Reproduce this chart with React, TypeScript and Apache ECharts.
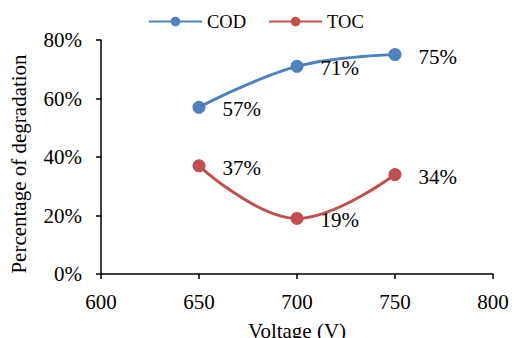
import React, { useEffect, useRef } from "react";
import * as echarts from "echarts";

const voltages = [650, 700, 750];
const codValues = [57, 71, 75];
const tocValues = [37, 19, 34];
const xTicks = [600, 650, 700, 750, 800];
const yTicks = [0, 20, 40, 60, 80];

const FONT = "'Liberation Serif', 'Times New Roman', serif";

export default function App() {
  const ref = useRef<HTMLDivElement>(null);
  useEffect(() => {
    if (!ref.current) return;
    const chart = echarts.init(ref.current, undefined, { renderer: "svg" });
    const mk = (vals: number[]) => voltages.map((v, i) => [v, vals[i]]);
    const label = {
      show: true,
      position: "right",
      distance: 17,
      offset: [0, 2],
      color: "#000",
      fontFamily: FONT,
      fontSize: 21,
      formatter: (p: any) => p.value[1] + "%",
    };
    chart.setOption({
      animation: false,
      backgroundColor: "#fff",
      textStyle: { fontFamily: FONT },
      legend: {
        top: 7,
        left: 143,
        itemWidth: 53,
        itemHeight: 12,
        itemGap: 22,
        textStyle: { fontFamily: FONT, fontSize: 18.5, color: "#000" },
        data: ["COD", "TOC"],
      },
      grid: { left: 101, right: 21, top: 40, bottom: 64, outerBoundsMode: "none", containLabel: false },
      xAxis: {
        type: "value",
        min: xTicks[0],
        max: xTicks[xTicks.length - 1],
        interval: 50,
        name: "Voltage (V)",
        nameLocation: "middle",
        nameGap: 46,
        nameTextStyle: { fontFamily: FONT, fontSize: 21, color: "#000" },
        axisLine: { show: true, lineStyle: { color: "#000", width: 1.5 } },
        axisTick: { show: true, length: 5, lineStyle: { color: "#000", width: 1.5 } },
        axisLabel: { fontFamily: FONT, fontSize: 21, color: "#000", margin: 17 },
        splitLine: { show: false },
      },
      yAxis: {
        type: "value",
        min: yTicks[0],
        max: yTicks[yTicks.length - 1],
        interval: 20,
        name: "Percentage of degradation",
        nameLocation: "middle",
        nameGap: 72,
        nameTextStyle: { fontFamily: FONT, fontSize: 21, color: "#000", padding: [0, 14, 0, 0] },
        axisLine: { show: true, lineStyle: { color: "#000", width: 1.5 } },
        axisTick: { show: true, length: 5, lineStyle: { color: "#000", width: 1.5 } },
        axisLabel: {
          fontFamily: FONT,
          fontSize: 21,
          color: "#000",
          margin: 19,
          formatter: (v: number) => v + "%",
        },
        splitLine: { show: false },
      },
      series: [
        {
          name: "COD",
          type: "line",
          data: mk(codValues),
          smooth: 0.4,
          symbol: "circle",
          symbolSize: 13,
          color: "#4F81BD",
          lineStyle: { width: 3, color: "#4F81BD" },
          itemStyle: { color: "#4F81BD" },
          label,
        },
        {
          name: "TOC",
          type: "line",
          data: mk(tocValues),
          smooth: 0.4,
          symbol: "circle",
          symbolSize: 13,
          color: "#C0504D",
          lineStyle: { width: 3, color: "#C0504D" },
          itemStyle: { color: "#C0504D" },
          label,
        },
      ],
    });
    return () => chart.dispose();
  }, []);
  return <div ref={ref} style={{ width: 514, height: 338, position: "absolute", left: 0, top: 0 }} />;
}
